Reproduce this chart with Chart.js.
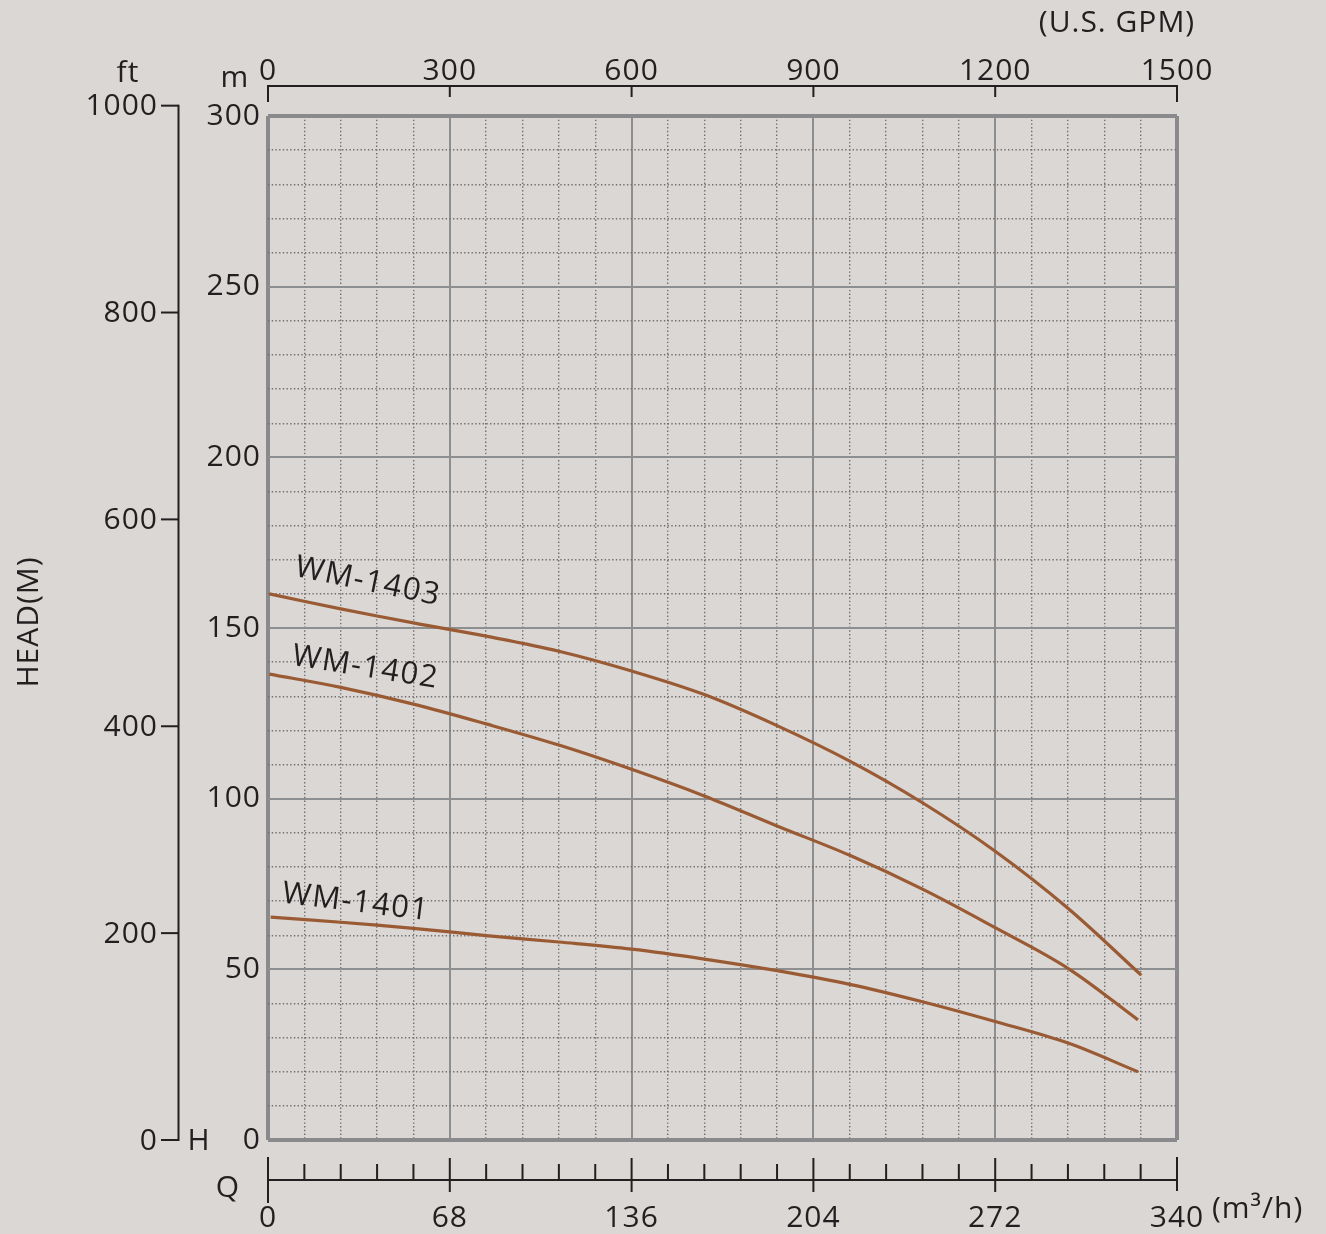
<!DOCTYPE html>
<html>
<head>
<meta charset="utf-8">
<script src="https://cdn.jsdelivr.net/npm/chart.js@4.4.1/dist/chart.umd.min.js"></script>
<style>
  html, body { margin: 0; padding: 0; background: #dbd7d4; }
  #wrap { width: 1326px; height: 1234px; }
  canvas { display: block; }
</style>
</head>
<body>
<div id="wrap"><canvas id="chart" width="1326" height="1234"></canvas></div>
<script>
// ---------- data ----------
const flowGridTicks = [0, 13.6, 27.2, 40.8, 54.4, 68, 81.6, 95.2, 108.8, 122.4, 136, 149.6, 163.2, 176.8, 190.4, 204, 217.6, 231.2, 244.8, 258.4, 272, 285.6, 299.2, 312.8, 326.4, 340];
const flowLabels = [0, 68, 136, 204, 272, 340];
const headGridTicks = [0, 10, 20, 30, 40, 50, 60, 70, 80, 90, 100, 110, 120, 130, 140, 150, 160, 170, 180, 190, 200, 210, 220, 230, 240, 250, 260, 270, 280, 290, 300];
const headLabels = [0, 50, 100, 150, 200, 250, 300];
const gpmTicks = [0, 300, 600, 900, 1200, 1500];
const ftTicks = [0, 200, 400, 600, 800, 1000];

const curveNames = ['WM-1403', 'WM-1402', 'WM-1401'];

const flow1403 = [0.5, 27.2, 54.4, 81.6, 108.8, 136, 163.2, 190.4, 217.6, 244.8, 272, 299.2, 326.6];
const head1403 = [160.0, 155.6, 151.5, 147.6, 143.2, 137.4, 130.5, 121.4, 111.0, 98.8, 84.6, 67.9, 48.3];

const flow1402 = [0.5, 27.2, 54.4, 81.6, 108.8, 136, 163.2, 190.4, 217.6, 244.8, 272, 299.2, 325.4];
const head1402 = [136.5, 132.6, 127.7, 121.9, 115.7, 108.6, 100.8, 92.0, 83.4, 73.5, 62.2, 50.3, 35.2];

const flow1401 = [1.0, 27.2, 54.4, 81.6, 108.8, 136, 163.2, 190.4, 217.6, 244.8, 272, 299.2, 325.4];
const head1401 = [65.3, 63.8, 62.0, 59.9, 58.0, 55.9, 53.0, 49.6, 45.6, 40.5, 34.7, 28.4, 20.0];

// ---------- styles ----------
const BG = '#dbd7d4';
const INK = '#231f20';
const CURVE = '#9a5b34';
const FRAME = '#8a8a8c';
const MAJOR = '#8d8e90';
const MINOR = '#707072';
const FONT = '"Open Sans", "DejaVu Sans", sans-serif';
const FS = 30;

const toPts = (xs, ys) => xs.map((x, i) => ({ x: x, y: ys[i] }));

// label placement (data coordinates of baseline start, rotation in degrees)
const labelPlacement = [
  { q: 9.6, h: 165.3, rot: 11.5 },
  { q: 8.6, h: 139.2, rot: 9 },
  { q: 5.0, h: 69.6, rot: 7 }
];

function gridWidth(ctx, n) {
  if (ctx.index === 0 || ctx.index === n - 1) return 4;
  return ctx.index % 5 === 0 ? 2 : 1.4;
}
function gridColor(ctx, n) {
  if (ctx.index === 0 || ctx.index === n - 1) return FRAME;
  return ctx.index % 5 === 0 ? MAJOR : MINOR;
}

const decoPlugin = {
  id: 'deco',
  beforeDraw(chart) {
    const c = chart.ctx;
    c.save();
    c.fillStyle = BG;
    c.fillRect(0, 0, chart.width, chart.height);
    c.restore();
    try { c.letterSpacing = '1px'; } catch (e) {}
  },
  afterDatasetsDraw(chart) {
    const c = chart.ctx, xs = chart.scales.x, ys = chart.scales.y;
    c.save();
    c.fillStyle = INK;
    c.font = '31px ' + FONT;
    try { c.letterSpacing = '1.5px'; } catch (e) {}
    c.textAlign = 'left';
    c.textBaseline = 'alphabetic';
    curveNames.forEach((name, i) => {
      const p = labelPlacement[i];
      c.save();
      c.translate(xs.getPixelForValue(p.q), ys.getPixelForValue(p.h));
      c.rotate(p.rot * Math.PI / 180);
      c.fillText(name, 0, 0);
      c.restore();
    });
    c.restore();
  },
  afterDraw(chart) {
    const c = chart.ctx;
    const xs = chart.scales.x, x2 = chart.scales.x2, yf = chart.scales.yFt;
    const line = (a, b, d, e) => { c.beginPath(); c.moveTo(a, b); c.lineTo(d, e); c.stroke(); };
    const text = (t, x, y, al, bl) => { c.textAlign = al; c.textBaseline = bl; c.fillText(t, x, y); };
    c.save();
    c.strokeStyle = INK;
    c.fillStyle = INK;
    c.lineWidth = 2;
    c.lineCap = 'butt';
    c.font = FS + 'px ' + FONT;
    try { c.letterSpacing = '1px'; } catch (e) {}

    // ---- ft axis ----
    const axX = 178.5;
    line(axX, yf.getPixelForValue(1000) - 1, axX, yf.getPixelForValue(0) + 1);
    ftTicks.forEach(v => {
      const p = yf.getPixelForValue(v);
      line(161, p, axX, p);
      text(String(v), 158, p + 1, 'right', 'middle');
    });
    text('ft', 128, 82, 'center', 'alphabetic');
    text('m', 235, 87, 'center', 'alphabetic');
    text('H', 199, 1150, 'center', 'alphabetic');

    // ---- HEAD(M) ----
    c.save();
    c.translate(38, 622);
    c.rotate(-Math.PI / 2);
    text('HEAD(M)', 0, 0, 'center', 'alphabetic');
    c.restore();

    // ---- top GPM axis ----
    const topY = 86;
    line(x2.getPixelForValue(0) - 1, topY, x2.getPixelForValue(1500) + 1, topY);
    gpmTicks.forEach((v, i) => {
      const p = x2.getPixelForValue(v);
      const end = (i === 0 || i === gpmTicks.length - 1) ? 102 : 97;
      line(p, topY, p, end);
      text(String(v), p, 80, 'center', 'alphabetic');
    });
    text('(U.S. GPM)', 1117, 32, 'center', 'alphabetic');

    // ---- bottom Q axis ----
    const botY = 1180;
    line(xs.getPixelForValue(0), botY, xs.getPixelForValue(340), botY);
    flowGridTicks.forEach((v, i) => {
      const p = xs.getPixelForValue(v);
      let y1 = 1164, y2 = botY;
      if (i === 0) { y1 = 1157; y2 = 1203; }
      else if (i === flowGridTicks.length - 1) { y1 = 1157; y2 = 1191; }
      else if (i % 5 === 0) { y1 = 1158; y2 = 1192; }
      line(p, y1, p, y2);
    });
    text('Q', 228, 1197, 'center', 'alphabetic');
    text('(m\u00B3/h)', 1212, 1218, 'left', 'alphabetic');
    c.restore();
  }
};

const nX = flowGridTicks.length;
const nY = headGridTicks.length;

new Chart(document.getElementById('chart'), {
  type: 'line',
  data: {
    datasets: [
      { label: curveNames[0], data: toPts(flow1403, head1403) },
      { label: curveNames[1], data: toPts(flow1402, head1402) },
      { label: curveNames[2], data: toPts(flow1401, head1401) }
    ].map(d => Object.assign(d, {
      borderColor: CURVE, backgroundColor: CURVE, borderWidth: 3.2,
      pointRadius: 0, fill: false, tension: 0.35, borderCapStyle: 'butt'
    }))
  },
  options: {
    responsive: false,
    animation: false,
    devicePixelRatio: 1,
    layout: { padding: { left: 0, right: 149, top: 116, bottom: 0 } },
    plugins: { legend: { display: false }, tooltip: { enabled: false } },
    scales: {
      x: {
        type: 'linear', position: 'bottom', min: 0, max: 340,
        afterBuildTicks: s => { s.ticks = flowGridTicks.map(v => ({ value: v })); },
        afterFit: s => { s.height = 94; },
        grid: { drawTicks: false, color: ctx => gridColor(ctx, nX), lineWidth: ctx => gridWidth(ctx, nX) },
        border: { display: false, dash: ctx => (ctx.index % 5 === 0 ? [] : [1.4, 2.3]) },
        ticks: {
          autoSkip: false, maxRotation: 0, padding: 60, color: INK,
          font: { family: FONT, size: FS },
          callback: v => (flowLabels.includes(v) ? String(v) : '')
        }
      },
      y: {
        type: 'linear', position: 'left', min: 0, max: 300,
        afterBuildTicks: s => { s.ticks = headGridTicks.map(v => ({ value: v })); },
        afterFit: s => { s.width = 268; },
        grid: { drawTicks: false, color: ctx => gridColor(ctx, nY), lineWidth: ctx => gridWidth(ctx, nY) },
        border: { display: false, dash: ctx => (ctx.index % 5 === 0 ? [] : [1.4, 2.3]) },
        ticks: {
          autoSkip: false, padding: 7, color: INK,
          font: { family: FONT, size: FS },
          callback: v => (headLabels.includes(v) ? String(v) : '')
        }
      },
      x2: { axis: 'x', type: 'linear', position: 'top', display: false, min: 0, max: 1500 },
      yFt: { axis: 'y', type: 'linear', position: 'left', display: false, min: 0, max: 990 }
    }
  },
  plugins: [decoPlugin]
});
</script>
</body>
</html>
